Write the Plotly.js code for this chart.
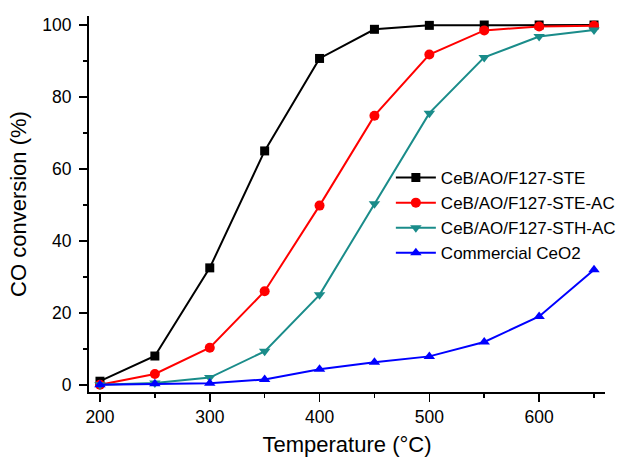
<!DOCTYPE html>
<html><head><meta charset="utf-8">
<script src="https://cdn.plot.ly/plotly-3.0.1.min.js"></script>
<style>body{margin:0;background:#fff}#c{width:634px;height:457px}</style>
</head><body><div id="c"></div>
<script>
const temps = [200,250,300,350,400,450,500,550,600,650];
const names = ["CeB/AO/F127-STE","CeB/AO/F127-STE-AC","CeB/AO/F127-STH-AC","Commercial CeO2"];
const steVals = [1,8,32.5,65,90.7,98.8,99.9,100,100,100];
const steAcVals = [0,3,10.3,26,49.8,74.8,91.8,98.5,99.6,99.8];
const sthAcVals = [0,0.5,2,9.3,25,50.3,75.5,91,96.8,98.6];
const ceo2Vals = [0,0.3,0.4,1.5,4.3,6.3,7.9,11.9,19,32];
const xTicks = [200,300,400,500,600];
const yTicks = [0,20,40,60,80,100];

const colors = ["#000000","#ff0000","#1a8c8a","#0000ff"];
const symbols = ["square","circle","triangle-down","triangle-up"];
const series = [steVals, steAcVals, sthAcVals, ceo2Vals];
const FONT = "Liberation Sans, Arial";
const data = series.map((v,i)=>({
  x: temps, y: v, name: names[i], type:"scatter", mode:"lines+markers",
  line:{color:colors[i], width:2},
  marker:{symbol:symbols[i], color:colors[i], size: i===0?9:10}
}));
const axisCommon = {
  showgrid:false, zeroline:false, showline:true, linecolor:"#000", linewidth:2,
  ticks:"outside", ticklen:8, tickwidth:1.5, tickcolor:"#000", automargin:false,
  tickfont:{family:FONT, size:17.5, color:"#000"}
};
const layout = {
  width:634, height:457,
  margin:{l:89, r:29, t:16, b:65},
  paper_bgcolor:"#fff", plot_bgcolor:"#fff",
  showlegend:true,
  legend:{x:0.585, y:0.617, xanchor:"left", yanchor:"top", bgcolor:"rgba(0,0,0,0)",
    font:{family:FONT, size:17, color:"#000"}, tracegroupgap:0, itemwidth:40},
  xaxis:Object.assign({}, axisCommon, {range:[190,660], tickvals:xTicks,
    minor:{ticks:"outside", ticklen:4, tickwidth:1.5, tickcolor:"#000", dtick:50, tick0:250},
    title:{text:"Temperature (°C)", font:{family:FONT, size:22, color:"#000"}, standoff:15}}),
  yaxis:Object.assign({}, axisCommon, {range:[-2,102.5], tickvals:yTicks, ticklabelstandoff:4,
    minor:{ticks:"outside", ticklen:4, tickwidth:1.5, tickcolor:"#000", dtick:10, tick0:10},
    title:{text:"CO conversion (%)", font:{family:FONT, size:22, color:"#000"}, standoff:10}})
};
Plotly.newPlot("c", data, layout, {displayModeBar:false, staticPlot:true});
</script></body></html>
